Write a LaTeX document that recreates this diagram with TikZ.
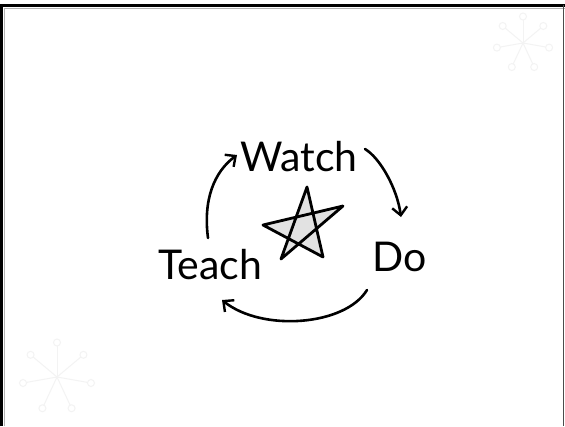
\documentclass[tikz,border=0pt]{standalone}
\usepackage{fontspec}
\setmainfont{Lato}
\usetikzlibrary{arrows.meta}
\definecolor{flake}{HTML}{F3F3F3}
\definecolor{starfill}{HTML}{E2E2E2}
\tikzset{
  word/.style={font=\fontsize{41}{45}\selectfont, text=black, inner sep=0pt},
  cycarrow/.style={line width=2.6pt, line cap=round, -{Straight Barb[length=8pt,width=15pt,line width=2.4pt]}},
  flakeline/.style={draw=flake, line width=1pt},
}
\begin{document}
\begin{tikzpicture}[x=1pt,y=-1pt]
\useasboundingbox (0,0) rectangle (565,426);
% frame
\fill[white] (0,0) rectangle (565,426);
\draw[line width=3pt, black] (1.5,426) -- (1.5,5.5) -- (565,5.5);
\draw[line width=1pt, gray!60] (4,426) -- (4,8) -- (565,8);
\draw[line width=1.6pt, black!70] (563.5,5) -- (563.5,426);
% snowflakes
\foreach \cx/\cy/\r in {57/377/31, 523/43/23}{
  \foreach \a in {90,140,40,190,-10,-115,-65}{
    \draw[flakeline] (\cx,\cy) -- ++({\r*cos(\a)},{-\r*sin(\a)});
    \draw[flakeline] ({\cx+(\r+3.5)*cos(\a)},{\cy-(\r+3.5)*sin(\a)}) circle[radius=3.5];
  }
}
% words
\node[word] (watch) at (299,157) {Watch};
\node[word] (teach) at (210,265) {Teach};
\node[word] (do) at (400,257) {Do};
% star
\coordinate (sTop) at (307,187);
\coordinate (sRight) at (343,206);
\coordinate (sBR) at (323,257);
\coordinate (sBL) at (281,259);
\coordinate (sLeft) at (263,225);
\filldraw[fill=starfill, draw=black, line width=2.8pt, line join=round]
  (sTop) -- (sBL) -- (sRight) -- (sLeft) -- (sBR) -- cycle;
% arrows
\coordinate (a1s) at (208,238);
\coordinate (a1e) at (237,155);
\coordinate (a2s) at (365,149);
\coordinate (a2e) at (401,217);
\coordinate (a3s) at (367,290);
\coordinate (a3e) at (222,300);
\draw[cycarrow] (a1s) .. controls (203,200) and (214,172) .. (a1e);
\draw[cycarrow] (a2s) .. controls (380,158) and (397,188) .. (a2e);
\draw[cycarrow] (a3s) .. controls (345,326) and (262,332) .. (a3e);
\end{tikzpicture}
\end{document}
